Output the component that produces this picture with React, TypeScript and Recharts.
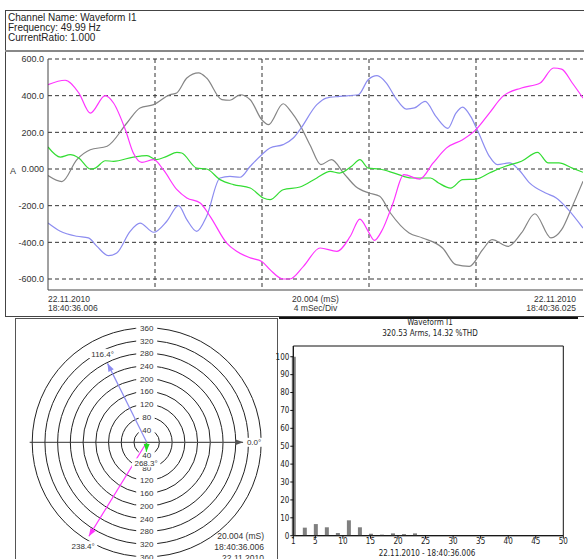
import React from "react";
import {
  Bar,
  BarChart,
  CartesianGrid,
  Line,
  LineChart,
  PolarAngleAxis,
  PolarGrid,
  PolarRadiusAxis,
  Radar,
  RadarChart,
  ReferenceArea,
  Scatter,
  ScatterChart,
  XAxis,
  YAxis,
} from "recharts";

// waveform samples: [time in ms, current in A]
const magentaWave = [
  [0, 460], [0.64, 484], [1.15, 415], [1.58, 305], [2.14, 400], [2.45, 360], [2.89, 215],
  [3.19, 87], [3.51, 36], [3.95, 51], [4.31, -4], [4.82, -113], [5.19, -158], [5.69, -185],
  [6.06, -258], [6.68, -404], [7.05, -449], [7.56, -485], [7.99, -504], [8.3, -549],
  [8.79, -600], [9.04, -600], [9.55, -531], [10.17, -431], [10.8, -449], [11.3, -367],
  [11.66, -273], [11.97, -340], [12.2, -389], [12.5, -331], [12.9, -185], [13.3, -31],
  [13.9, -55], [14.4, 33], [14.9, 115], [15.5, 160], [16.0, 215], [16.5, 305], [17.0, 396],
  [17.7, 442], [18.4, 469], [18.9, 551], [19.2, 545], [19.6, 469], [20, 387],
];
const grayWave = [
  [0, -36], [0.52, -69], [1.08, 51], [1.58, 105], [2.21, 124], [2.95, 251], [3.44, 333],
  [3.95, 351], [4.55, 405], [4.81, 415], [5.19, 496], [5.63, 524], [5.93, 496], [6.5, 378],
  [6.8, 375], [7.18, 405], [7.56, 378], [7.99, 269], [8.24, 242], [8.79, 356], [9.1, 310],
  [9.4, 245], [9.8, 130], [10.2, 24], [10.6, 51], [11.05, -22], [11.5, -95], [12, -131],
  [12.4, -149], [12.8, -240], [13.5, -349], [14, -376], [14.75, -431], [15.25, -522],
  [15.75, -531], [16.25, -440], [16.6, -385], [17.2, -422], [17.7, -349], [18.2, -244],
  [18.8, -376], [19.2, -331], [19.6, -204], [20, -67],
];
const blueWave = [
  [0, -295], [0.46, -340], [1.08, -367], [1.51, -376], [1.83, -422], [2.26, -473],
  [2.57, -458], [3.07, -340], [3.44, -295], [3.95, -345], [4.44, -285], [4.88, -200],
  [5.19, -276], [5.56, -340], [5.93, -258], [6.43, -49], [6.8, -40], [7.18, -45], [7.56, 15],
  [7.99, 78], [8.3, 115], [8.79, 133], [9.17, 169], [9.42, 215], [10.05, 351], [10.4, 387],
  [10.9, 396], [11.6, 405], [11.97, 487], [12.3, 509], [12.65, 469], [13, 387], [13.4, 327],
  [13.7, 333], [14.1, 369], [14.5, 287], [14.95, 222], [15.25, 305], [15.5, 338], [15.8, 287],
  [16.1, 196], [16.5, 69], [16.8, 24], [17.25, 33], [17.6, -4], [18, -76], [18.6, -131],
  [19, -158], [19.4, -213], [20, -322],
];
const greenWave = [
  [0, 120], [0.46, 65], [0.83, 78], [1.15, 60], [1.58, 0], [1.77, 5], [2.14, 45], [2.45, 42],
  [3.19, 65], [3.7, 73], [4.06, 51], [4.44, 69], [4.82, 91], [5.0, 87], [5.56, 5], [5.93, 0],
  [6.43, -58], [6.93, -85], [7.56, -104], [8.05, -158], [8.3, -167], [8.79, -113],
  [9.42, -98], [10.05, -49], [10.55, -13], [10.9, -22], [11.35, 15], [11.66, 51], [11.97, 5],
  [12.4, 0], [13, -25], [13.6, -49], [14.3, -49], [14.6, -76], [15.05, -104], [15.5, -58],
  [16, -55], [16.5, -22], [17.1, 15], [17.7, 42], [18.3, 91], [18.7, 33], [19.1, 33],
  [19.6, 5], [20, -18],
];

const ampTicks = [-600, -400, -200, 0, 200, 400, 600];
const divTicks = [4, 8, 12, 16];
const timeTicks = [0, 10, 20];
const timeTop = ["22.11.2010", "20.004 (mS)", "22.11.2010"];
const timeBottom = ["18:40:36.006", "4 mSec/Div", "18:40:36.025"];

// phasor diagram
const ringValues = [40, 80, 120, 160, 200, 240, 280, 320, 360];
const phasorLabels = ["0.0°", "116.4°", "238.4°", "268.3°"];
const phasorMag = [303, 277, 347, 30];
const phasorAng = [0, 116.4, 238.4, 268.3];
const phasorColors = ["#555555", "#8c8cf0", "#ff33ff", "#22dd22"];
const phasorTime = ["20.004 (mS)", "18:40:36.006", "22.11.2010"];

// harmonic spectrum
const harmonicOrder = [1, 3, 5, 7, 9, 11, 13, 15, 17, 19, 21, 23];
const harmonicPct = [100, 4.5, 6.5, 4.7, 1.5, 8.6, 4.7, 1.1, 0.6, 1.3, 0.9, 1.3];
const pctTicks = [0, 10, 20, 30, 40, 50, 60, 70, 80, 90, 100];
const orderTicks = [1, 5, 10, 15, 20, 25, 30, 35, 40, 45, 50];

const toPts = (rows: number[][]) => rows.map(([t, a]) => ({ t, a }));

const TimeTick = (props: any) => {
  const { x, y, payload } = props;
  const i = timeTicks.indexOf(payload.value);
  const anchor = i === 0 ? "start" : i === timeTicks.length - 1 ? "end" : "middle";
  return (
    <g>
      <text x={x} y={y + 11.5} textAnchor={anchor} fontSize={8.5} fill="#333">{timeTop[i]}</text>
      <text x={x} y={y + 20.5} textAnchor={anchor} fontSize={8.5} fill="#333">{timeBottom[i]}</text>
    </g>
  );
};

const POLAR_CY = 142.3;

const RingTick = (props: any) => {
  const { x, y, payload } = props;
  const label = String(payload.value);
  const w = label.length * 5 + 6;
  const yb = 2 * POLAR_CY - y;
  return (
    <g>
      <rect x={x - w / 2} y={y - 4.5} width={w} height={9} fill="#fff" />
      <text x={x} y={y} dy={3} textAnchor="middle" fontSize={8} fill="#333">{label}</text>
      <rect x={x - w / 2} y={yb - 4.5} width={w} height={9} fill="#fff" />
      <text x={x} y={yb} dy={3} textAnchor="middle" fontSize={8} fill="#333">{label}</text>
    </g>
  );
};

const PhasorHead = (props: any) => {
  const { cx, cy, payload } = props;
  if (!payload.tip) return <g />;
  const rad = (payload.ang * Math.PI) / 180;
  const lx = cx + 11 * Math.cos(rad);
  const ly = cy - 11 * Math.sin(rad);
  const w = payload.label.length * 4.4 + 2;
  return (
    <g>
      <polygon
        points="0,0 -8,-3 -8,3"
        fill={payload.color}
        transform={`translate(${cx},${cy}) rotate(${-payload.ang})`}
      />
      <rect x={lx - w / 2} y={ly - 4.5} width={w} height={9} fill="#fff" />
      <text x={lx} y={ly} dy={3} textAnchor="middle" fontSize={8} fill="#333">{payload.label}</text>
    </g>
  );
};

const NoDot = () => <g />;

export default function App() {
  const waves = [
    { key: "gray", rows: grayWave, color: "#858585" },
    { key: "blue", rows: blueWave, color: "#8c8cf0" },
    { key: "green", rows: greenWave, color: "#33dd33" },
    { key: "magenta", rows: magentaWave, color: "#ff33ff" },
  ];
  const phasors = phasorLabels.map((label, i) => {
    const rad = (phasorAng[i] * Math.PI) / 180;
    return {
      label,
      color: phasorColors[i],
      pts: [
        { x: 0, y: 0, tip: false },
        {
          x: phasorMag[i] * Math.cos(rad),
          y: phasorMag[i] * Math.sin(rad),
          tip: true,
          ang: phasorAng[i],
          label,
          color: phasorColors[i],
        },
      ],
    };
  });
  const bars = harmonicOrder.map((h, i) => ({ h, pct: harmonicPct[i] }));

  return (
    <div
      style={{
        position: "absolute",
        left: 0,
        top: 0,
        width: 584,
        height: 559,
        overflow: "hidden",
        background: "#fff",
        fontFamily: "'Liberation Sans', Arial, sans-serif",
      }}
    >
      {/* frame of the waveform panel */}
      <div style={{ position: "absolute", left: 5, top: 10, width: 600, height: 305, borderLeft: "1px solid #444", borderTop: "1px solid #444", borderBottom: "1px solid #444" }} />
      <div style={{ position: "absolute", left: 5, top: 50, width: 600, height: 2, background: "#888" }} />
      <div style={{ position: "absolute", left: 8, top: 13, fontSize: 10, lineHeight: "10px", color: "#222" }}>
        <div>Channel Name: Waveform I1</div>
        <div>Frequency: 49.99 Hz</div>
        <div>CurrentRatio: 1.000</div>
      </div>
      <div style={{ position: "absolute", left: 10, top: 166, fontSize: 9, color: "#333" }}>A</div>

      <div style={{ position: "absolute", left: 0, top: 50 }}>
        <LineChart width={584} height={272} margin={{ top: 9, right: 1, bottom: 12, left: 8 }}>
          <CartesianGrid
            stroke="#333"
            strokeDasharray="4 3"
            horizontalValues={ampTicks}
            verticalValues={divTicks}
          />
          <XAxis
            type="number"
            dataKey="t"
            domain={[0, 20]}
            ticks={timeTicks}
            height={20}
            tickSize={0}
            tickMargin={0}
            tick={<TimeTick />}
            stroke="#444"
            allowDataOverflow
          />
          <YAxis
            type="number"
            domain={[-660, 600]}
            ticks={ampTicks}
            width={40}
            tickSize={0}
            tickMargin={4}
            tickFormatter={(v: number) => (v === 0 ? "0.000" : v.toFixed(1))}
            tick={{ fontSize: 9, fill: "#333" }}
            stroke="#444"
            allowDataOverflow
          />
          {waves.map((w) => (
            <Line
              key={w.key}
              data={toPts(w.rows)}
              dataKey="a"
              type="monotone"
              stroke={w.color}
              strokeWidth={1.2}
              dot={false}
              isAnimationActive={false}
            />
          ))}
        </LineChart>
      </div>

      {/* phasor panel */}
      <div style={{ position: "absolute", left: 15, top: 318, width: 261, height: 260, border: "1px solid #555" }} />
      <div style={{ position: "absolute", left: 0, top: 300 }}>
        <RadarChart
          width={290}
          height={270}
          cx={146.7}
          cy={POLAR_CY}
          outerRadius={114.5}
          data={ringValues.map((r) => ({ r }))}
          margin={{ top: 0, right: 0, bottom: 0, left: 0 }}
        >
          <PolarGrid gridType="circle" radialLines={false} stroke="#222" />
          <PolarAngleAxis dataKey="r" tick={false} axisLine={false} tickLine={false} />
          <PolarRadiusAxis
            type="number"
            angle={90}
            domain={[0, 360]}
            ticks={ringValues}
            axisLine={false}
            tickLine={false}
            tick={<RingTick />}
          />
          <Radar dataKey="r" stroke="none" fill="none" dot={false} isAnimationActive={false} />
        </RadarChart>
      </div>
      <div style={{ position: "absolute", left: 0, top: 300 }}>
        <ScatterChart
          width={290}
          height={270}
          margin={{ top: 21.44, right: 22.44, bottom: 6.84, left: 25.84 }}
        >
          <XAxis type="number" dataKey="x" domain={[-380, 380]} hide />
          <YAxis type="number" dataKey="y" domain={[-380, 380]} hide />
          <Scatter
            data={[{ x: -368, y: 0, tip: false }, { x: 0, y: 0, tip: false }]}
            line={{ stroke: "#333", strokeWidth: 1 }}
            shape={<NoDot />}
            isAnimationActive={false}
          />
          {phasors.map((p) => (
            <Scatter
              key={p.label}
              data={p.pts}
              line={{ stroke: p.color, strokeWidth: 1.2 }}
              shape={<PhasorHead />}
              isAnimationActive={false}
            />
          ))}
        </ScatterChart>
      </div>
      <div style={{ position: "absolute", left: 200, top: 531, width: 64, textAlign: "right", fontSize: 8.5, lineHeight: "11px", color: "#333" }}>
        {phasorTime.map((s) => (
          <div key={s}>{s}</div>
        ))}
      </div>

      {/* harmonic panel */}
      <div style={{ position: "absolute", left: 279, top: 317, width: 299, height: 2, background: "#111" }} />
      <div style={{ position: "absolute", left: 330, top: 317, width: 200, textAlign: "center", fontFamily: "'Liberation Sans Narrow', 'DejaVu Sans Condensed', sans-serif", fontSize: 8, lineHeight: "11px", color: "#222" }}>
        <div>Waveform I1</div>
        <div>320.53 Arms, 14.32 %THD</div>
      </div>
      <div style={{ position: "absolute", left: 260, top: 318 }}>
        <BarChart
          width={324}
          height={241}
          data={bars}
          margin={{ top: 28, right: 20.7, bottom: 11.3, left: 8.3 }}
          barSize={4}
          style={{ fontFamily: "'Liberation Sans Narrow', 'DejaVu Sans Condensed', sans-serif" }}
        >
          <XAxis
            type="number"
            dataKey="h"
            domain={[1, 50]}
            ticks={orderTicks}
            height={12}
            tickSize={3}
            tickMargin={0}
            tick={{ fontSize: 8, fill: "#222" }}
            stroke="#111"
          />
          <YAxis
            type="number"
            domain={[0, 106]}
            ticks={pctTicks}
            width={25}
            tickSize={3}
            tickMargin={1}
            tick={{ fontSize: 8, fill: "#222" }}
            stroke="#111"
          />
          <ReferenceArea x1={1} x2={50} y1={0} y2={106} fill="none" stroke="#111" />
          <Bar dataKey="pct" fill="#7f7f7f" isAnimationActive={false} />
        </BarChart>
      </div>
      <div style={{ position: "absolute", left: 330, top: 549, width: 194, textAlign: "center", fontFamily: "'Liberation Sans Narrow', 'DejaVu Sans Condensed', sans-serif", fontSize: 8, color: "#222" }}>
        22.11.2010 - 18:40:36.006
      </div>
    </div>
  );
}
